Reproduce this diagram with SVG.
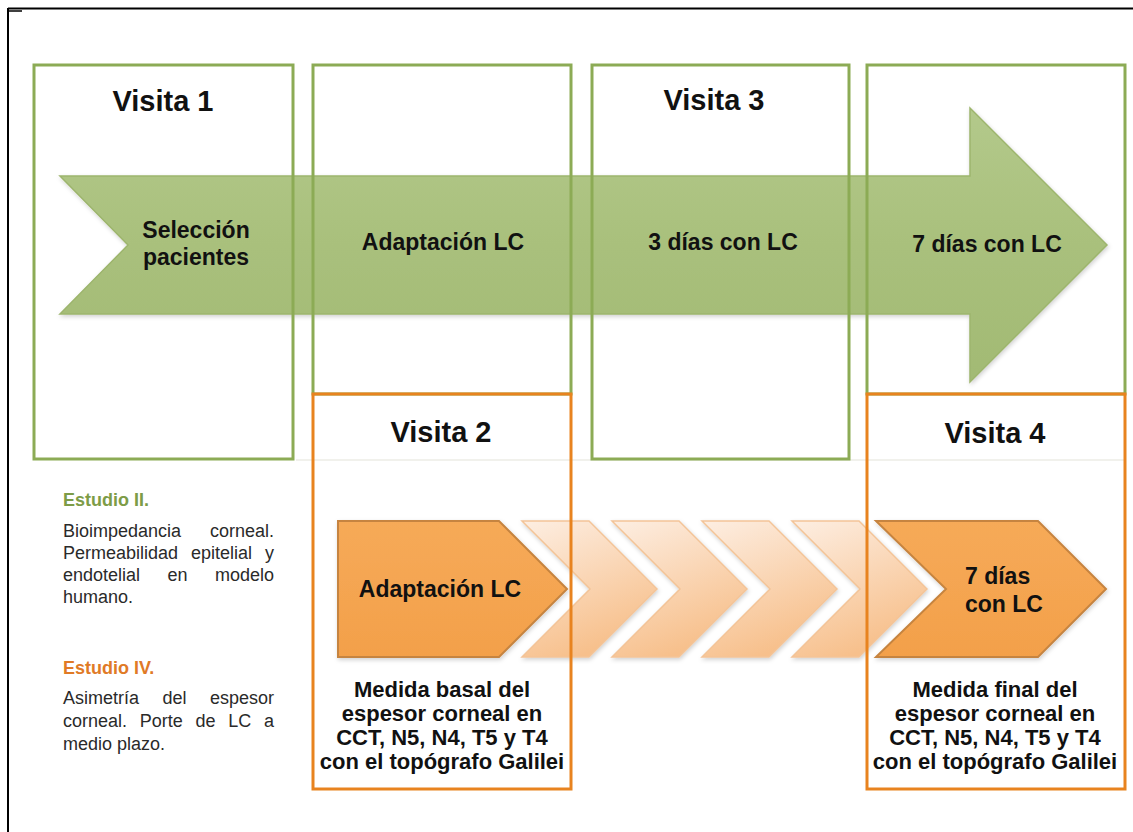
<svg xmlns="http://www.w3.org/2000/svg" width="1133" height="832" viewBox="0 0 1133 832">
<defs>
<linearGradient id="gArrow" x1="0" y1="0" x2="0" y2="1">
<stop offset="0" stop-color="#b3c98b"/>
<stop offset="0.5" stop-color="#a9c07c"/>
<stop offset="1" stop-color="#a2ba74"/>
</linearGradient>
<linearGradient id="gChev" x1="0" y1="0" x2="0.4" y2="1">
<stop offset="0" stop-color="#fdeee2"/>
<stop offset="1" stop-color="#f7c08c"/>
</linearGradient>
<linearGradient id="gOrange" x1="0" y1="0" x2="0" y2="1">
<stop offset="0" stop-color="#f6aa58"/>
<stop offset="1" stop-color="#f3a04a"/>
</linearGradient>
<filter id="shadow" x="-5%" y="-5%" width="110%" height="115%">
<feDropShadow dx="1" dy="2" stdDeviation="2" flood-color="#000" flood-opacity="0.18"/>
</filter>
</defs>
<style>
.gbox{fill:none;stroke:#8cab55;stroke-width:3}
.obox{fill:none;stroke:#e8831f;stroke-width:3}
.t{font-family:"Liberation Sans",Arial,sans-serif;fill:#111;font-weight:bold}
.h{font-size:29px}
.lab{font-size:23px}
.med{font-size:22px}
.body{font-family:"Liberation Sans",Arial,sans-serif;font-size:18px;fill:#2a2a2a}
.chev{fill:url(#gChev);stroke:#f3c498;stroke-width:1.5}
.dark{fill:url(#gOrange);stroke:#c6843f;stroke-width:2}
</style>
<rect width="1133" height="832" fill="#fff"/>
<g id="frame" stroke="#000" fill="none">
<line x1="8" y1="8.5" x2="1133" y2="8.5" stroke-width="2"/>
<line x1="7" y1="11" x2="22" y2="11" stroke-width="1.5"/>
<line x1="8" y1="8" x2="8" y2="832" stroke-width="2"/>
</g>
<line x1="296" y1="460" x2="1124" y2="460" stroke="#ececE6" stroke-width="1.5"/>
<g id="timeline-arrow">
<polygon points="60,176 970,176 970,108 1107,245 970,382 970,314 60,314 128,245" fill="url(#gArrow)" stroke="#9db56d" stroke-width="1.5" filter="url(#shadow)"/>
</g>
<g id="chevrons">
<g id="chev-adapt">
<polygon class="dark" points="338,521 499,521 567,589 499,657 338,657" filter="url(#shadow)"/>
<text class="t lab" x="440" y="597" text-anchor="middle">Adaptación LC</text>
</g>
<polygon class="chev" points="522,521 589,521 657,589 589,657 522,657 590,589" filter="url(#shadow)"/>
<polygon class="chev" points="612,521 679,521 747,589 679,657 612,657 680,589" filter="url(#shadow)"/>
<polygon class="chev" points="702,521 769,521 837,589 769,657 702,657 770,589" filter="url(#shadow)"/>
<polygon class="chev" points="792,521 859,521 927,589 859,657 792,657 860,589" filter="url(#shadow)"/>
<g id="chev-7dias">
<polygon class="dark" points="876,521 1038,521 1106,589 1038,657 876,657 946,589" filter="url(#shadow)"/>
<text class="t lab" x="965" y="584">7 días</text>
<text class="t lab" x="965" y="612">con LC</text>
</g>
</g>
<g id="visita1">
<rect class="gbox" x="34" y="65" width="259" height="394"/>
<text class="t h" x="163" y="111" text-anchor="middle">Visita 1</text>
<text class="t lab" x="196" y="238" text-anchor="middle">Selección</text>
<text class="t lab" x="196" y="265" text-anchor="middle">pacientes</text>
</g>
<g id="visita2">
<rect class="gbox" x="313" y="65" width="258" height="329"/>
<rect class="obox" x="313" y="394" width="258" height="395"/>
<text class="t lab" x="443" y="250" text-anchor="middle">Adaptación LC</text>
<text class="t h" x="441" y="442" text-anchor="middle">Visita 2</text>
<text class="t med" x="442" y="697" text-anchor="middle">Medida basal del</text>
<text class="t med" x="442" y="721" text-anchor="middle">espesor corneal en</text>
<text class="t med" x="442" y="745" text-anchor="middle">CCT, N5, N4, T5 y T4</text>
<text class="t med" x="442" y="769" text-anchor="middle">con el topógrafo Galilei</text>
</g>
<g id="visita3">
<rect class="gbox" x="592" y="65" width="257" height="394"/>
<text class="t h" x="714" y="110" text-anchor="middle">Visita 3</text>
<text class="t lab" x="723" y="250" text-anchor="middle">3 días con LC</text>
</g>
<g id="visita4">
<rect class="gbox" x="867" y="65" width="258" height="329"/>
<rect class="obox" x="867" y="394" width="258" height="395"/>
<text class="t lab" x="987" y="252" text-anchor="middle">7 días con LC</text>
<text class="t h" x="995" y="443" text-anchor="middle">Visita 4</text>
<text class="t med" x="995" y="697" text-anchor="middle">Medida final del</text>
<text class="t med" x="995" y="721" text-anchor="middle">espesor corneal en</text>
<text class="t med" x="995" y="745" text-anchor="middle">CCT, N5, N4, T5 y T4</text>
<text class="t med" x="995" y="769" text-anchor="middle">con el topógrafo Galilei</text>
</g>
<g id="estudio2">
<text x="63" y="506" font-family="Liberation Sans, Arial, sans-serif" font-size="18" font-weight="bold" fill="#7d9c47">Estudio II.</text>
<text class="body" x="63" y="537">Bioimpedancia</text>
<text class="body" x="274" y="537" text-anchor="end">corneal.</text>
<text class="body" x="63" y="559">Permeabilidad</text>
<text class="body" x="221.5" y="559" text-anchor="middle">epitelial</text>
<text class="body" x="274" y="559" text-anchor="end">y</text>
<text class="body" x="63" y="581">endotelial</text>
<text class="body" x="177.5" y="581" text-anchor="middle">en</text>
<text class="body" x="274" y="581" text-anchor="end">modelo</text>
<text class="body" x="63" y="603">humano.</text>
</g>
<g id="estudio4">
<text x="63" y="674" font-family="Liberation Sans, Arial, sans-serif" font-size="18" font-weight="bold" fill="#e07a26">Estudio IV.</text>
<text class="body" x="63" y="704">Asimetría</text>
<text class="body" x="174.5" y="704" text-anchor="middle">del</text>
<text class="body" x="274" y="704" text-anchor="end">espesor</text>
<text class="body" x="63" y="727">corneal.</text>
<text class="body" x="161.3" y="727" text-anchor="middle">Porte</text>
<text class="body" x="205.5" y="727" text-anchor="middle">de</text>
<text class="body" x="239.7" y="727" text-anchor="middle">LC</text>
<text class="body" x="274" y="727" text-anchor="end">a</text>
<text class="body" x="63" y="750">medio plazo.</text>
</g>
</svg>
